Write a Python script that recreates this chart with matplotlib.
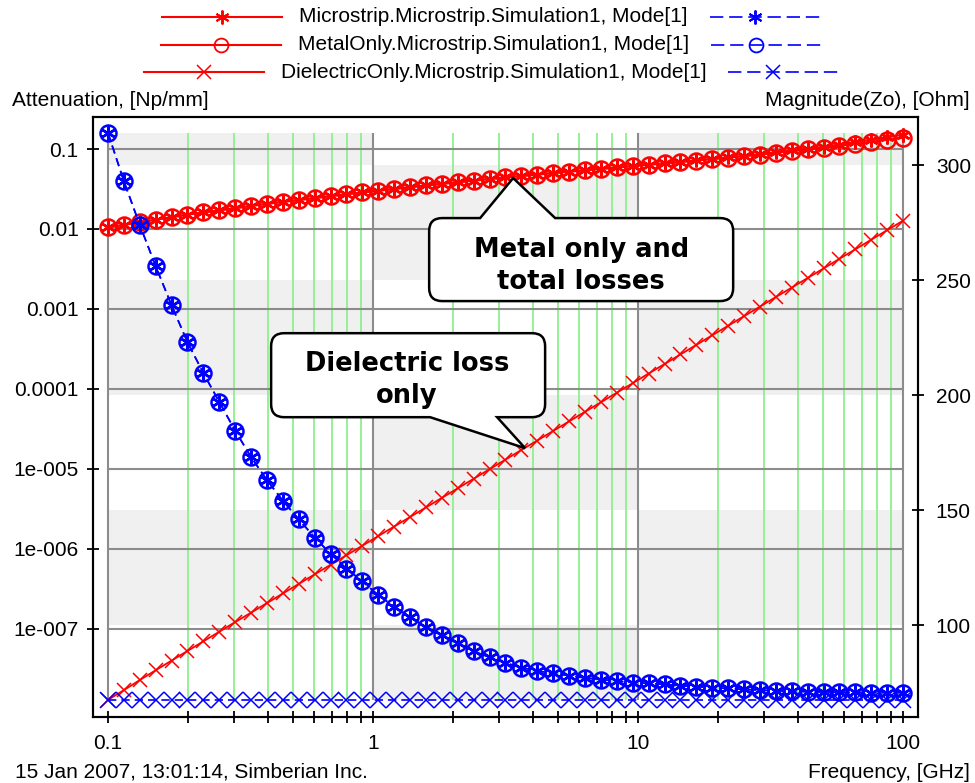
import matplotlib
matplotlib.use("Agg")
import matplotlib.pyplot as plt
import matplotlib.transforms as mtransforms
from matplotlib.collections import LineCollection
from matplotlib.lines import Line2D
from matplotlib.patches import PathPatch, Rectangle
from matplotlib.path import Path
from matplotlib.ticker import NullFormatter, NullLocator

plt.rcParams["font.family"] = ["Liberation Sans", "DejaVu Sans"]
plt.rcParams["font.size"] = 15

# ---- sweep and results -------------------------------------------------
freq = [0.1, 0.1148, 0.1318, 0.1514, 0.1738, 0.1995, 0.2291, 0.263, 0.302, 0.3467,
        0.3981, 0.4571, 0.5248, 0.6026, 0.6918, 0.7943, 0.912, 1.047, 1.202, 1.38,
        1.585, 1.82, 2.089, 2.399, 2.754, 3.162, 3.631, 4.169, 4.786, 5.495,
        6.31, 7.244, 8.318, 9.55, 10.96, 12.59, 14.45, 16.6, 19.05, 21.88,
        25.12, 28.84, 33.11, 38.02, 43.65, 50.12, 57.54, 66.07, 75.86, 87.1, 100.0]

# attenuation, Np/mm
att_metal = [0.01047, 0.01127, 0.01213, 0.01306, 0.01406, 0.01514, 0.01611, 0.01714, 0.01824, 0.01941,
             0.02065, 0.02183, 0.02307, 0.02438, 0.02576, 0.02723, 0.02864, 0.03013, 0.0317, 0.03334,
             0.03508, 0.03673, 0.03846, 0.04027, 0.04217, 0.04416, 0.04603, 0.04797, 0.05, 0.05212,
             0.05433, 0.05649, 0.05875, 0.06109, 0.06353, 0.06607, 0.06887, 0.07178, 0.07482, 0.07798,
             0.08128, 0.08531, 0.08954, 0.09397, 0.09863, 0.1035, 0.1096, 0.1161, 0.123, 0.1303, 0.138]
att_total = [0.01047, 0.01127, 0.01213, 0.01306, 0.01406, 0.01514, 0.01611, 0.01714, 0.01824, 0.01941,
             0.02065, 0.02183, 0.02307, 0.02438, 0.02576, 0.02723, 0.02864, 0.03013, 0.0317, 0.03334,
             0.03508, 0.03673, 0.03847, 0.04028, 0.04218, 0.04417, 0.04605, 0.04799, 0.05003, 0.05216,
             0.05438, 0.05656, 0.05884, 0.06121, 0.06369, 0.06628, 0.06914, 0.07214, 0.07529, 0.0786,
             0.08209, 0.08638, 0.09095, 0.09582, 0.1011, 0.1067, 0.1138, 0.1217, 0.1304, 0.14, 0.1507]
att_diel = [1.3e-8, 1.72e-8, 2.3e-8, 3.05e-8, 4.03e-8, 5.31e-8, 7.01e-8, 9.24e-8, 1.22e-7, 1.6e-7,
            2.11e-7, 2.78e-7, 3.66e-7, 4.82e-7, 6.35e-7, 8.36e-7, 1.1e-6, 1.45e-6, 1.91e-6, 2.51e-6,
            3.31e-6, 4.36e-6, 5.74e-6, 7.55e-6, 9.95e-6, 1.31e-5, 1.73e-5, 2.27e-5, 2.99e-5, 3.94e-5,
            5.19e-5, 6.82e-5, 9.0e-5, 1.18e-4, 1.56e-4, 2.05e-4, 2.7e-4, 3.56e-4, 4.69e-4, 6.17e-4,
            8.13e-4, 1.07e-3, 1.41e-3, 1.85e-3, 2.44e-3, 3.21e-3, 4.24e-3, 5.57e-3, 7.35e-3, 9.66e-3, 1.27e-2]

# characteristic impedance magnitude, Ohm
zo_total = [314, 293, 274, 256, 239, 223, 209.5, 197, 184.5, 173,
            163, 154, 146, 138, 131, 124.5, 119, 113, 108, 103.5,
            99, 95.5, 92, 88.5, 86, 83.5, 81.5, 80, 79, 78,
            77, 76.3, 75.6, 75, 74.6, 74.2, 73.6, 73.2, 72.8, 72.4,
            72, 71.7, 71.4, 71.2, 71, 70.9, 70.8, 70.7, 70.6, 70.6, 70.6]
zo_metal = zo_total  # metal-only impedance coincides with the full model
zo_diel = [67.4, 67.4, 67.4, 67.4, 67.4, 67.4, 67.4, 67.4, 67.4, 67.4,
           67.4, 67.4, 67.4, 67.4, 67.4, 67.4, 67.4, 67.4, 67.4, 67.4,
           67.4, 67.4, 67.4, 67.4, 67.4, 67.4, 67.4, 67.4, 67.4, 67.4,
           67.4, 67.4, 67.4, 67.4, 67.4, 67.4, 67.4, 67.4, 67.4, 67.4,
           67.4, 67.4, 67.4, 67.4, 67.4, 67.4, 67.4, 67.4, 67.4, 67.4, 67.4]

series_names = ["Microstrip.Microstrip.Simulation1, Mode[1]",
                "MetalOnly.Microstrip.Simulation1, Mode[1]",
                "DielectricOnly.Microstrip.Simulation1, Mode[1]"]

x_ticks = [0.1, 1, 10, 100]
x_tick_labels = ["0.1", "1", "10", "100"]
att_ticks = [0.1, 0.01, 0.001, 0.0001, 1e-5, 1e-6, 1e-7]
att_tick_labels = ["0.1", "0.01", "0.001", "0.0001", "1e-005", "1e-006", "1e-007"]
zo_ticks = [100, 150, 200, 250, 300]

# ---- figure ---------------------------------------------------------
W, H = 975, 783
fig = plt.figure(figsize=(W / 100, H / 100), dpi=100)
fig.patch.set_facecolor("white")
pix = mtransforms.IdentityTransform()

ax = fig.add_axes([93 / W, 1 - 717 / H, (918 - 93) / W, (717 - 117) / H])
ax2 = ax.twinx()

ax.set_xscale("log")
ax.set_yscale("log")
ax.set_xlim(0.0878, 113.9)
ax.set_ylim(7.94e-9, 0.2512)
ax2.set_ylim(60.0, 320.9)

RED = "#ff0000"
BLUE = "#0000ff"
GRID = "#8c8c8c"
GREEN = "#8ef08e"
SHADE = "#f0f0f0"

# checkerboard shading: frequency decades x impedance bands
fz = mtransforms.blended_transform_factory(ax.transData, ax2.transData)
zmin = min(zo_total + zo_diel)
zmax = max(zo_total + zo_diel)
bands = [zmin] + zo_ticks + [zmax]
for i in range(len(bands) - 1):
    for j in range(len(x_ticks) - 1):
        if (i + j) % 2 == 1:
            ax.add_patch(Rectangle((x_ticks[j], bands[i]), x_ticks[j + 1] - x_ticks[j],
                                   bands[i + 1] - bands[i], transform=fz,
                                   facecolor=SHADE, edgecolor="none", zorder=0.1))

# grid
minor_x = [k * 10.0 ** e for e in (-1, 0, 1) for k in range(2, 10)]
ax.add_collection(LineCollection([[(x, zmin), (x, zmax)] for x in minor_x], transform=fz,
                                 colors=GREEN, linewidths=1.3, zorder=0.3), autolim=False)
ax.add_collection(LineCollection([[(x, zmin), (x, zmax)] for x in x_ticks], transform=fz,
                                 colors=GRID, linewidths=1.5, zorder=0.4), autolim=False)
ax.hlines(att_ticks, freq[0], freq[-1], colors=GRID, linewidths=1.5, zorder=0.4)

# attenuation curves (left axis)
ax.plot(freq, att_metal, color=RED, lw=1.5, marker="o", ms=11.5, mfc="none", mew=1.8, zorder=3)
ax.plot(freq, att_total, color=RED, lw=1.5, marker=(6, 2, 0), ms=10, mew=1.8, zorder=3)
ax.plot(freq, att_diel, color=RED, lw=1.3, marker="x", ms=10.5, mew=1.1, zorder=3)

# impedance curves (right axis)
dash = (0, (5, 3))
ax2.plot(freq, zo_metal, color=BLUE, lw=1.2, ls=dash, marker="o", ms=11.5, mfc="none", mew=1.8)
ax2.plot(freq, zo_total, color=BLUE, lw=1.2, ls=dash, marker=(6, 2, 0), ms=10, mew=1.8)
ax2.plot(freq, zo_diel, color=BLUE, lw=1.2, ls=dash, marker="x", ms=12, mew=1.1)

# axes and ticks
ax.set_xticks(x_ticks, labels=x_tick_labels)
ax.set_xticks(minor_x, minor=True)
ax.xaxis.set_minor_formatter(NullFormatter())
ax.set_yticks(att_ticks, labels=att_tick_labels)
ax.yaxis.set_minor_locator(NullLocator())
ax2.set_yticks(zo_ticks, labels=[str(z) for z in zo_ticks])
ax2.yaxis.set_minor_locator(NullLocator())

ax.tick_params(axis="x", which="both", direction="inout", length=8.6, width=1.3, pad=8)
ax.tick_params(axis="y", which="both", direction="inout", length=8.6, width=1.3, pad=6)
ax2.tick_params(axis="y", which="both", direction="inout", length=8.6, width=1.3, pad=8.5)
for a in (ax, ax2):
    for sp in a.spines.values():
        sp.set_linewidth(1.5)
        sp.set_color("black")

fig.text(12, H - 100, "Attenuation, [Np/mm]", transform=pix, ha="left", va="center")
fig.text(970, H - 100, "Magnitude(Zo), [Ohm]", transform=pix, ha="right", va="center")
fig.text(970, H - 772, "Frequency, [GHz]", transform=pix, ha="right", va="center")
fig.text(15, H - 772, "15 Jan 2007, 13:01:14, Simberian Inc.", transform=pix, ha="left", va="center")

# legend: red sample | name | blue sample, rows centred
renderer = fig.canvas.get_renderer()
legend_markers = [((6, 2, 0), 1.4), ("o", 1.3), ("x", 1.1)]
legend_dash = (0, (8, 3.5))
for k, name in enumerate(series_names):
    y = H - (17 + 27.5 * k)
    t = fig.text(493.5, y, name, transform=pix, ha="center", va="center")
    bb = t.get_window_extent(renderer)
    left, right = bb.x0, bb.x1
    mk, mw = legend_markers[k]
    fig.add_artist(Line2D([left - 137, left - 17], [y, y], color=RED, lw=1.5, transform=pix))
    fig.add_artist(Line2D([left - 77], [y], color=RED, marker=mk, ms=10, mfc="none", mew=mw,
                          transform=pix))
    fig.add_artist(Line2D([right + 22, right + 132], [y, y], color=BLUE, lw=1.2, ls=legend_dash,
                          transform=pix))
    fig.add_artist(Line2D([right + 67], [y], color=BLUE, marker=mk, ms=10, mfc="none", mew=mw,
                          transform=pix))


def callout(tip, box, base, side, lines, text_dx, text_dy):
    # speech bubble whose pointer ends on a data point (pixel offsets, y down)
    dx, dy = ax.transData.transform(tip)
    tx, ty = dx, H - dy
    l, r, t, b = tx + box[0], tx + box[1], ty + box[2], ty + box[3]
    b0, b1 = tx + base[0], tx + base[1]
    rad = 13
    pts = [(l + rad, t)]
    codes = [Path.MOVETO]
    if side == "top":
        pts += [(b0, t), (tx, ty), (b1, t)]
        codes += [Path.LINETO] * 3
    pts += [(r - rad, t), (r, t), (r, t + rad), (r, b - rad), (r, b), (r - rad, b)]
    codes += [Path.LINETO, Path.CURVE3, Path.CURVE3] * 2
    if side == "bottom":
        pts += [(b1, b), (tx, ty), (b0, b)]
        codes += [Path.LINETO] * 3
    pts += [(l + rad, b), (l, b), (l, b - rad), (l, t + rad), (l, t), (l + rad, t), (0, 0)]
    codes += [Path.LINETO, Path.CURVE3, Path.CURVE3] * 2 + [Path.CLOSEPOLY]
    pts = [(x, H - y) for x, y in pts]
    fig.add_artist(PathPatch(Path(pts, codes), facecolor="white", edgecolor="black",
                             lw=1.8, transform=pix, zorder=5))
    for n, s in enumerate(lines):
        fig.text(tx + text_dx, H - (ty + text_dy + 32 * n), s, transform=pix,
                 ha="center", va="center", family="DejaVu Sans", weight="bold",
                 size=18.5, zorder=6)


callout((3.38, 0.0433), (-84, 220, 40, 123), (-33, 42), "top",
        ["Metal only and", "total losses"], 68, 72)
callout((3.75, 1.82e-5), (-254, 20, -115, -31), (-95, -28), "bottom",
        ["Dielectric loss", "only"], -118, -84)

fig.savefig("out.png", dpi=100)
